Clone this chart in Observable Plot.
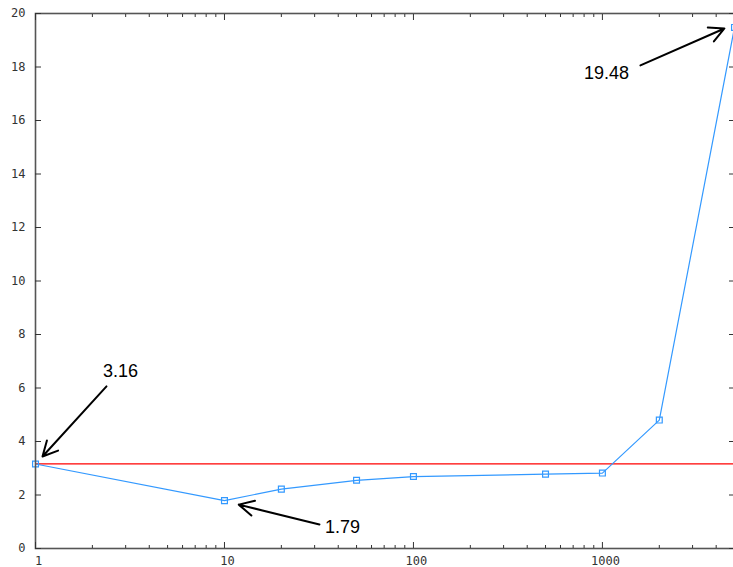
<!DOCTYPE html>
<html>
<head>
<meta charset="utf-8">
<script src="https://cdn.jsdelivr.net/npm/d3@7"></script>
<script src="https://cdn.jsdelivr.net/npm/@observablehq/plot@0.6"></script>
<style>
  html, body { margin: 0; padding: 0; background: #fff; overflow: hidden; }
  #chart svg { display: block; max-width: none !important; }
</style>
</head>
<body>
<div id="chart"></div>
<script>
// Data
const xValues = [1, 10, 20, 50, 100, 500, 1000, 2000, 5000];
const yValues = [3.16, 1.79, 2.22, 2.55, 2.69, 2.78, 2.82, 4.8, 19.48];
const referenceY = 3.16;

// Ticks
const yTicks = [0, 2, 4, 6, 8, 10, 12, 14, 16, 18, 20];
const xTicks = [1, 10, 100, 1000];
const xTickLabels = ["1", "10", "100", "1000"];
const xMinorTicks = [2, 3, 4, 5, 6, 7, 8, 9, 20, 30, 40, 50, 60, 70, 80, 90,
  200, 300, 400, 500, 600, 700, 800, 900, 2000, 3000, 4000, 5000];

// Annotations (labels and arrow anchors, in data units)
const noteLabels = ["3.16", "1.79", "19.48"];
const noteTextX = [2.82, 42.1, 1050];
const noteTextY = [6.62, 0.785, 17.76];
const arrowFromX = [2.375, 31.8, 1589];
const arrowFromY = [6.06, 0.90, 18.06];
const arrowToX = [1.089, 11.9, 4422];
const arrowToY = [3.44, 1.64, 19.44];

const data = xValues.map((x, i) => ({x, y: yValues[i]}));
const notes = noteLabels.map((label, i) => ({
  label, tx: noteTextX[i], ty: noteTextY[i],
  x1: arrowFromX[i], y1: arrowFromY[i], x2: arrowToX[i], y2: arrowToY[i]
}));

const mono = "DejaVu Sans Mono, monospace";
const axisColor = "#555";
const blue = "#3399ff";
const noText = () => "";

const chart = Plot.plot({
  width: 735,
  height: 567,
  marginLeft: 35,
  marginRight: 1,
  marginTop: 13,
  marginBottom: 19,
  style: {background: "#fff", fontFamily: "Liberation Sans, Arial, sans-serif", maxWidth: "none"},
  x: {type: "log", domain: [1, 5000]},
  y: {domain: [0, 20]},
  marks: [
    Plot.ruleY([referenceY], {stroke: "red", strokeWidth: 1.3}),
    Plot.line(data, {x: "x", y: "y", stroke: blue, strokeWidth: 1.2}),
    Plot.dot(data, {x: "x", y: "y", symbol: "square", r: 3.3, stroke: blue, strokeWidth: 1.2, fill: "none"}),
    Plot.frame({stroke: axisColor, strokeWidth: 1.6}),
    Plot.axisY(yTicks, {anchor: "left", tickSize: 6, dx: 6, stroke: "#333", tickFormat: noText}),
    Plot.axisY(yTicks, {anchor: "right", tickSize: 6, dx: -6, stroke: "#333", tickFormat: noText}),
    Plot.axisY(yTicks, {anchor: "left", tickSize: 0, tickPadding: 10,
      fontFamily: mono, fontSize: 12, fill: "#333", letterSpacing: 0.6}),
    Plot.axisX(xTicks, {anchor: "bottom", tickSize: 6, dy: -6, stroke: "#333", tickFormat: noText}),
    Plot.axisX(xMinorTicks, {anchor: "bottom", tickSize: 3, dy: -3, stroke: "#333", tickFormat: noText}),
    Plot.axisX(xTicks, {anchor: "top", tickSize: 6, dy: 6, stroke: "#333", tickFormat: noText}),
    Plot.axisX(xMinorTicks, {anchor: "top", tickSize: 3, dy: 3, stroke: "#333", tickFormat: noText}),
    Plot.axisX(xTicks, {anchor: "bottom", tickSize: 0, tickPadding: 8, dx: 3,
      tickFormat: d => xTickLabels[xTicks.indexOf(d)],
      fontFamily: mono, fontSize: 12, fill: "#333", letterSpacing: 0.6}),
    Plot.arrow(notes, {x1: "x1", y1: "y1", x2: "x2", y2: "y2", stroke: "#000",
      strokeWidth: 2, headLength: 12.5, headAngle: 54}),
    Plot.text(notes, {x: "tx", y: "ty", text: "label", fontSize: 18, fill: "#000",
      fontFamily: "Liberation Sans, Arial, sans-serif"})
  ]
});
document.getElementById("chart").appendChild(chart);
</script>
</body>
</html>
